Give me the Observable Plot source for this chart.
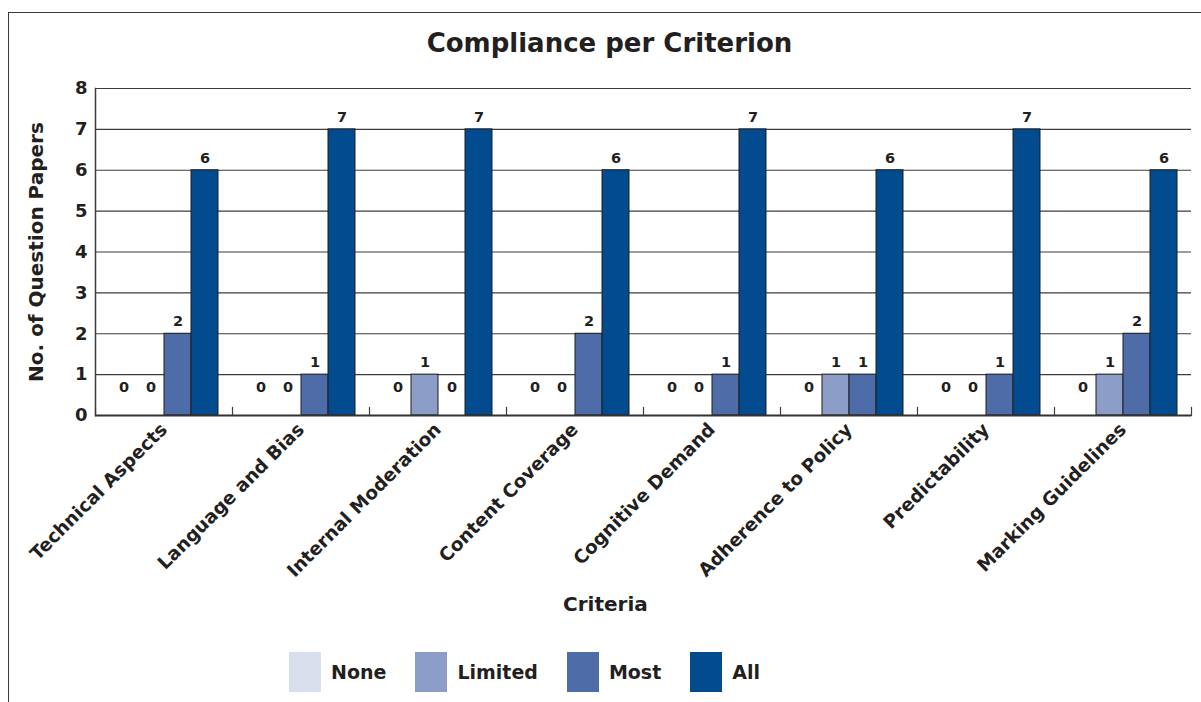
<!DOCTYPE html>
<html>
<head>
<meta charset="utf-8">
<script src="https://cdn.jsdelivr.net/npm/d3@7"></script>
<script src="https://cdn.jsdelivr.net/npm/@observablehq/plot@0.6"></script>
<style>
  html, body { margin: 0; padding: 0; background: #fff; }
  body { font-family: "DejaVu Sans", sans-serif; font-weight: bold; color: #231f20; }
  #wrap { position: relative; width: 1201px; height: 702px; overflow: hidden; }
  #border { position: absolute; left: 8px; top: 12px; right: -4px; bottom: -4px;
            border-top: 1.5px solid #3a3a3a; border-left: 1.5px solid #3a3a3a; pointer-events: none; }
  #title { height: 66px; line-height: 86px; text-align: center; font-size: 26px; padding-left: 18px; box-sizing: border-box; }
  #chart svg { display: block; }
  #xlabel { height: 40px; line-height: 38px; font-size: 20px; text-align: left; padding-left: 563px; box-sizing: border-box; }
  #legend { display: flex; align-items: center; gap: 29px; padding-left: 289px; padding-top: 27px; }
  .item { display: flex; align-items: center; gap: 10px; font-size: 19px; }
  .sw { width: 32px; height: 40px; }
</style>
</head>
<body>
<div id="wrap">
  <div id="title">Compliance per Criterion</div>
  <div id="chart"></div>
  <div id="xlabel">Criteria</div>
  <div id="legend"></div>
  <div id="border"></div>
</div>
<script>
// Criteria along the x axis
const criteria = [
  "Technical Aspects", "Language and Bias", "Internal Moderation", "Content Coverage",
  "Cognitive Demand", "Adherence to Policy", "Predictability", "Marking Guidelines"
];
// Compliance levels (series)
const levels = ["None", "Limited", "Most", "All"];
const levelColors = ["#dadfed", "#8c9ec8", "#4e6da8", "#024b8e"];

// Number of question papers per level, in criteria order
const noneCounts    = [0, 0, 0, 0, 0, 0, 0, 0];
const limitedCounts = [0, 0, 1, 0, 0, 1, 0, 1];
const mostCounts    = [2, 1, 0, 2, 1, 1, 1, 2];
const allCounts     = [6, 7, 7, 6, 7, 6, 7, 6];

const yTicks = [0, 1, 2, 3, 4, 5, 6, 7, 8];

const series = [noneCounts, limitedCounts, mostCounts, allCounts];
const rows = criteria.flatMap((c, i) =>
  levels.map((lv, j) => ({criterion: c, level: lv, value: series[j][i]}))
);

const font = "'DejaVu Sans', sans-serif";
const svgHeight = 519;
const mTop = 22, mBottom = 170;
const innerH = svgHeight - mTop - mBottom;

const chart = Plot.plot({
  width: 1201,
  height: svgHeight,
  marginLeft: 94,
  marginRight: 10,
  marginTop: mTop,
  marginBottom: mBottom,
  style: {fontFamily: font, fontWeight: "bold", color: "#231f20", background: "transparent"},
  fx: {domain: criteria, padding: 0, label: null},
  x: {domain: levels, paddingInner: 0, paddingOuter: 0.5, axis: null},
  y: {domain: [0, 8], label: null},
  color: {domain: levels, range: levelColors},
  marks: [
    Plot.ruleY(yTicks, {stroke: "#3c3c3c", strokeWidth: 1.2}),
    Plot.barY(rows, {fx: "criterion", x: "level", y: "value", fill: "level", stroke: "#1e1e1e", strokeWidth: 1}),
    Plot.text(rows.filter(d => d.value > 0), {
      fx: "criterion", x: "level", y: "value", text: d => String(d.value),
      dy: -12, fontSize: 14.5, fontWeight: "bold", fill: "#231f20"
    }),
    Plot.text(rows.filter(d => d.value === 0), {
      fx: "criterion", x: "level", y: "value", text: d => String(d.value),
      dy: -28, fontSize: 14.5, fontWeight: "bold", fill: "#231f20"
    }),
    // short upward ticks at category boundaries
    Plot.frame({anchor: "left", insetTop: innerH - 8, stroke: "#3c3c3c", strokeWidth: 1.2}),
    Plot.frame({anchor: "right", insetTop: innerH - 8, stroke: "#3c3c3c", strokeWidth: 1.2, facet: "super"}),
    // value axis line
    Plot.frame({anchor: "left", stroke: "#3c3c3c", strokeWidth: 1.5, facet: "super"}),
    Plot.ruleY([0], {stroke: "#333", strokeWidth: 2}),
    Plot.axisY(yTicks, {tickSize: 0, tickPadding: 8, fontSize: 18, fontWeight: "bold", label: null}),
    Plot.text(["No. of Question Papers"], {
      frameAnchor: "left", rotate: -90, dx: -59, textAnchor: "middle",
      fontSize: 20, fontWeight: "bold", fill: "#231f20", facet: "super"
    }),
    Plot.axisFx({anchor: "bottom", tickRotate: -45, tickSize: 0, tickPadding: 11, fontSize: 18.5, fontWeight: "bold", label: null})
  ]
});
document.getElementById("chart").append(chart);

// Legend
const legend = document.getElementById("legend");
levels.forEach((lv, i) => {
  const item = document.createElement("div");
  item.className = "item";
  const sw = document.createElement("div");
  sw.className = "sw";
  sw.style.background = levelColors[i];
  const lab = document.createElement("span");
  lab.textContent = lv;
  item.append(sw, lab);
  legend.append(item);
});
</script>
</body>
</html>
